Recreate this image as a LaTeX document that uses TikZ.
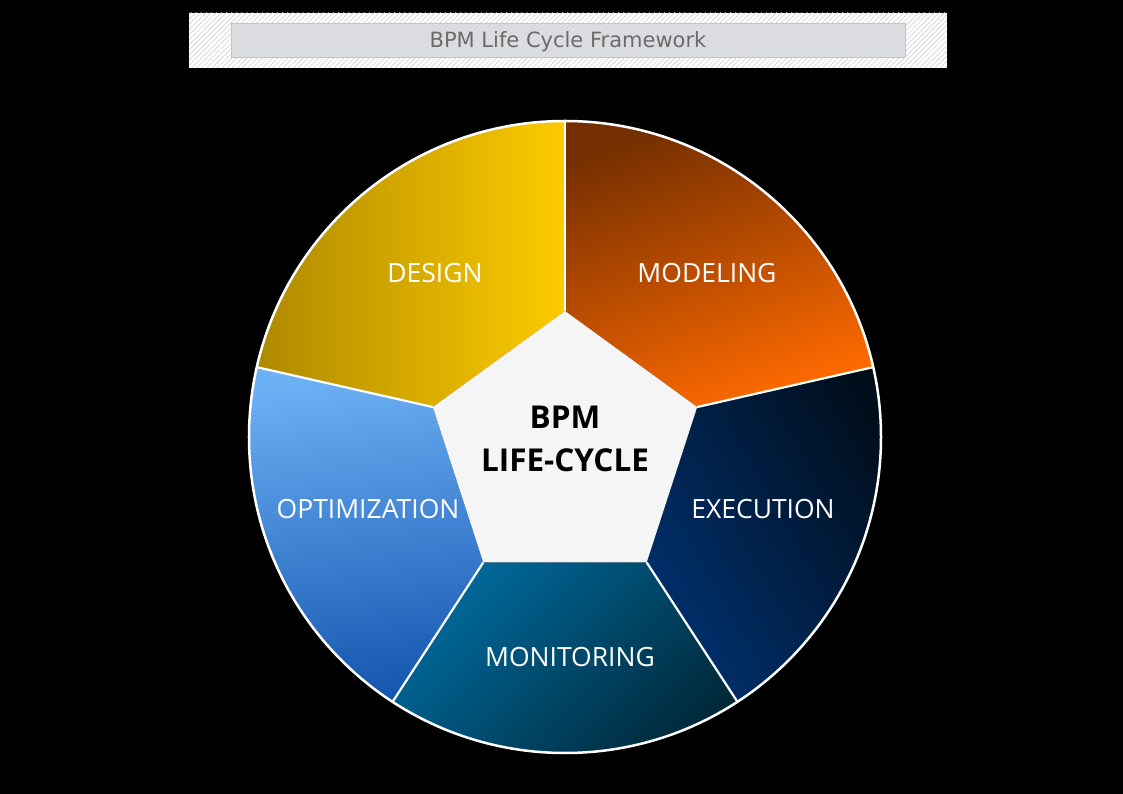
\documentclass[tikz,border=0pt]{standalone}
\usepackage{fontspec}
\setmainfont{Open Sans}
\newfontfamily\titlefont{DejaVu Sans}
\usetikzlibrary{patterns.meta,calc}
\definecolor{designA}{HTML}{AE8900}
\definecolor{designB}{HTML}{FDCB00}
\definecolor{modA}{HTML}{762F00}
\definecolor{modB}{HTML}{FF6A00}
\definecolor{exA}{HTML}{000E1C}
\definecolor{exB}{HTML}{00306E}
\definecolor{monA}{HTML}{006A9C}
\definecolor{monB}{HTML}{00283A}
\definecolor{optA}{HTML}{6DB1F5}
\definecolor{optB}{HTML}{1556B0}
\definecolor{pentfill}{HTML}{F5F5F5}
\definecolor{titlefill}{HTML}{D6D9DC}
\definecolor{titleline}{HTML}{BFC4C9}
\definecolor{titletext}{HTML}{6B6B6B}
\tikzset{
  divider/.style={draw=white, line width=2.2pt},
  seglabel/.style={text=white, font=\fontsize{26.5}{30}\selectfont, inner sep=0pt},
  centerlabel/.style={text=black, font=\fontsize{31.5}{43}\selectfont\bfseries, align=center, inner sep=0pt},
}
\begin{document}
\begin{tikzpicture}[x=1pt,y=1pt]
\useasboundingbox (-565,-357) rectangle (558,437);
\fill[black] (-565,-357) rectangle (558,437);
% title
\fill[white] (-376,369) rectangle (382,424);
\fill[pattern={Lines[angle=45,distance=3.6pt,line width=0.5pt]}, pattern color=black!22] (-376,369) rectangle (382,424);
\node[draw=titleline, fill=titlefill, fill opacity=0.85, text opacity=1, line width=0.8pt, minimum width=674pt, minimum height=34pt, inner sep=0pt,
      text height=15pt, text depth=0pt,
      text=titletext, font=\titlefont\fontsize{21}{24}\selectfont] (title) at (3,397) {BPM Life Cycle Framework};
% geometry
\coordinate (c) at (0,0);
\coordinate (v1) at (0,126);
\coordinate (v2) at (132.19,29.95);
\coordinate (v3) at (81.70,-125.45);
\coordinate (v4) at (-81.70,-125.45);
\coordinate (v5) at (-132.19,29.95);
\coordinate (o1) at (90:316);
\coordinate (o2) at (12.77:316);
\coordinate (o3) at (-56.93:316);
\coordinate (o4) at (-123.07:316);
\coordinate (o5) at (167.23:316);
% segments
\shade[top color=modA, bottom color=modB, shading angle=20]
  (v1) -- (o1) arc[start angle=90, end angle=12.77, radius=316] -- (v2) -- cycle;
\shade[top color=exA, bottom color=exB, shading angle=-60]
  (v2) -- (o2) arc[start angle=12.77, end angle=-56.93, radius=316] -- (v3) -- cycle;
\shade[top color=monA, bottom color=monB, shading angle=45]
  (v3) -- (o3) arc[start angle=-56.93, end angle=-123.07, radius=316] -- (v4) -- cycle;
\shade[top color=optA, bottom color=optB, shading angle=8]
  (v4) -- (o4) arc[start angle=-123.07, end angle=-192.77, radius=316] -- (v5) -- cycle;
\shade[left color=designA, right color=designB]
  (v5) -- (o5) arc[start angle=167.23, end angle=90, radius=316] -- (v1) -- cycle;
% pentagon
\fill[pentfill] (v1) -- (v2) -- (v3) -- (v4) -- (v5) -- cycle;
% dividers
\draw[divider] (v1) -- (o1);
\draw[divider] (v2) -- (o2);
\draw[divider] (v3) -- (o3);
\draw[divider] (v4) -- (o4);
\draw[divider] (v5) -- (o5);
\draw[draw=white, line width=2.5pt] (c) circle[radius=316];
% labels
\node[seglabel] (design) at (-130,164) {DESIGN};
\node[seglabel] (modeling) at (142,164) {MODELING};
\node[seglabel] (execution) at (198,-72) {EXECUTION};
\node[seglabel] (monitoring) at (5,-220) {MONITORING};
\node[seglabel] (optimization) at (-197,-72) {OPTIMIZATION};
\node[centerlabel] (center) at (0,-2) {BPM\\LIFE-CYCLE};
\end{tikzpicture}
\end{document}
